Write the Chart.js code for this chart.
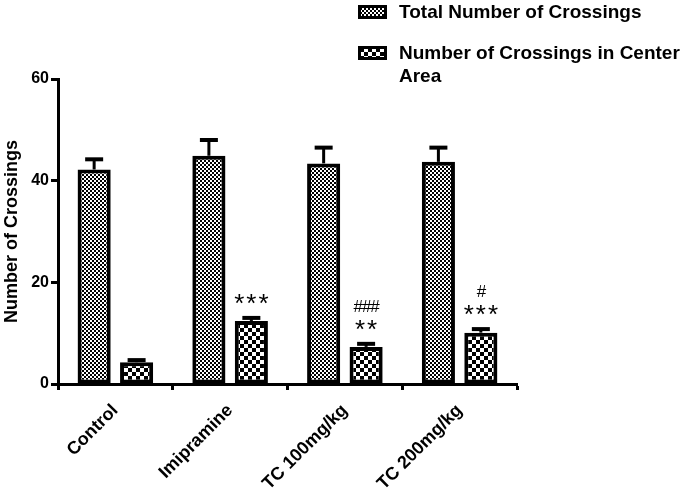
<!DOCTYPE html>
<html>
<head>
<meta charset="utf-8">
<script src="https://cdn.jsdelivr.net/npm/chart.js@4/dist/chart.umd.min.js"></script>
<style>
  html, body { margin: 0; padding: 0; background: #fff; }
  #wrap { width: 688px; height: 495px; position: relative; }
</style>
</head>
<body>
<div id="wrap"><canvas id="crossChart"></canvas></div>
<script>
'use strict';

// ---- data ----
const groups = ['Control', 'Imipramine', 'TC 100mg/kg', 'TC 200mg/kg'];
const totalCrossings = [42.2, 44.9, 43.4, 43.7];
const totalErr = [2.0, 3.1, 3.1, 2.8];
const centerCrossings = [4.3, 12.4, 7.3, 10.1];
const centerErr = [0.4, 0.6, 0.6, 0.7];
const starMarks = ['', '***', '**', '***'];
const hashMarks = ['', '', '###', '#'];
const seriesNames = ['Total Number of Crossings', 'Number of Crossings in Center Area'];
const legendLines = [['Total Number of Crossings'], ['Number of Crossings in Center', 'Area']];
const yTicks = [0, 20, 40, 60];

const FONT = "'Liberation Sans', Arial, sans-serif";

function checker(cell) {
  const c = document.createElement('canvas');
  c.width = c.height = cell * 2;
  const g = c.getContext('2d');
  g.fillStyle = '#fff';
  g.fillRect(0, 0, cell * 2, cell * 2);
  g.fillStyle = '#000';
  g.fillRect(0, 0, cell, cell);
  g.fillRect(cell, cell, cell, cell);
  return g.createPattern(c, 'repeat');
}

const fineFill = checker(2);
const coarseFill = checker(4);

// error bars (upper only) + significance marks
const errorBarPlugin = {
  id: 'errorBars',
  afterDatasetsDraw(chart) {
    const ctx = chart.ctx;
    const y = chart.scales.y;
    const errs = [totalErr, centerErr];
    ctx.save();
    ctx.strokeStyle = '#000';
    chart.data.datasets.forEach((ds, di) => {
      const meta = chart.getDatasetMeta(di);
      meta.data.forEach((bar, i) => {
        const top = y.getPixelForValue(ds.data[i] + errs[di][i]);
        ctx.lineWidth = 3;
        ctx.beginPath();
        ctx.moveTo(bar.x, bar.y);
        ctx.lineTo(bar.x, top);
        ctx.stroke();
        ctx.lineWidth = 4;
        ctx.beginPath();
        ctx.moveTo(bar.x - 9, top);
        ctx.lineTo(bar.x + 9, top);
        ctx.stroke();
      });
    });

    // marks over the center-area bars
    const meta = chart.getDatasetMeta(1);
    ctx.fillStyle = '#000';
    ctx.textAlign = 'center';
    ctx.textBaseline = 'alphabetic';
    meta.data.forEach((bar, i) => {
      const top = y.getPixelForValue(centerCrossings[i] + centerErr[i]);
      if (starMarks[i]) {
        ctx.font = '26px ' + FONT;
        ctx.letterSpacing = '2px';
        ctx.fillText(starMarks[i], bar.x + 1, top - 6);
      }
      if (hashMarks[i]) {
        ctx.font = '17px ' + FONT;
        ctx.letterSpacing = '-1px';
        ctx.fillText(hashMarks[i], bar.x, top - 32);
      }
    });
    ctx.restore();
  }
};

// legend box at top right with wrapped label
const sideLegend = {
  id: 'sideLegend',
  afterDraw(chart) {
    const ctx = chart.ctx;
    const rows = [5, 46];
    ctx.save();
    chart.data.datasets.forEach((ds, i) => {
      const top = rows[i];
      ctx.fillStyle = '#000';
      ctx.fillRect(358, top, 29, 14);
      ctx.fillStyle = ds.backgroundColor;
      ctx.fillRect(361, top + 3, 23, 8);
      ctx.fillStyle = '#000';
      ctx.font = 'bold 19px ' + FONT;
      ctx.textAlign = 'left';
      ctx.textBaseline = 'middle';
      legendLines[i].forEach((line, k) => {
        ctx.fillText(line, 399, top + 7.5 + k * 23);
      });
    });
    ctx.restore();
  }
};

new Chart(document.getElementById('crossChart'), {
  type: 'bar',
  data: {
    labels: groups,
    datasets: [
      { label: seriesNames[0], data: totalCrossings, backgroundColor: fineFill,
        borderColor: '#000', borderWidth: 4, borderSkipped: false },
      { label: seriesNames[1], data: centerCrossings, backgroundColor: coarseFill,
        borderColor: '#000', borderWidth: 4, borderSkipped: false }
    ]
  },
  options: {
    responsive: true,
    maintainAspectRatio: false,
    animation: false,
    categoryPercentage: 0.74,
    barPercentage: 0.78,
    layout: { padding: { left: 0, right: 171, top: 79, bottom: 0 } },
    plugins: { legend: { display: false }, tooltip: { enabled: false } },
    scales: {
      x: {
        afterFit: s => { s.height = 111; },
        grid: { display: true, drawOnChartArea: false, drawTicks: true, tickLength: 6, tickWidth: 3, tickColor: '#000' },
        border: { display: true, width: 3, color: '#000' },
        ticks: { color: '#000', font: { family: FONT, size: 18, weight: 'bold' }, minRotation: 45, maxRotation: 45, padding: 10 }
      },
      y: {
        min: 0,
        max: 60,
        afterFit: s => { s.width = 58; },
        afterBuildTicks: s => { s.ticks = yTicks.map(v => ({ value: v })); },
        grid: { display: true, drawOnChartArea: false, drawTicks: true, tickLength: 7, tickWidth: 3, tickColor: '#000' },
        border: { display: true, width: 3, color: '#000' },
        ticks: { color: '#000', font: { family: FONT, size: 16, weight: 'bold' }, padding: 2 },
        title: { display: true, text: 'Number of Crossings', color: '#000', padding: 1,
                 font: { family: FONT, size: 18, weight: 'bold' } }
      }
    }
  },
  plugins: [errorBarPlugin, sideLegend]
});
</script>
</body>
</html>
